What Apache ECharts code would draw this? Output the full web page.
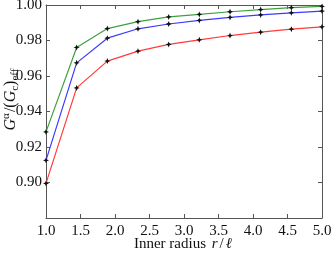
<!DOCTYPE html>
<html>
<head>
<meta charset="utf-8">
<script src="https://cdn.jsdelivr.net/npm/echarts@6/dist/echarts.min.js"></script>
<style>
  html, body { margin: 0; padding: 0; background: #fff; }
  #chart { width: 332px; height: 253px; }
</style>
</head>
<body>
<div id="chart"></div>
<script>
// inner radius r/l
const radii = [1.0, 1.444, 1.889, 2.333, 2.778, 3.222, 3.667, 4.111, 4.556, 5.0];
const greenVals = [0.9285, 0.9761, 0.9867, 0.9906, 0.9933, 0.9947, 0.9962, 0.9974, 0.9985, 0.9992];
const blueVals  = [0.9125, 0.9674, 0.9813, 0.9866, 0.9893, 0.9913, 0.9930, 0.9944, 0.9956, 0.9966];
const redVals   = [0.8995, 0.9533, 0.9684, 0.9740, 0.9778, 0.9804, 0.9828, 0.9847, 0.9864, 0.9877];

const font = 'Liberation Serif';
const axisColor = '#555';
const star = 'path://M0,-1L0.3,-0.3L1,0L0.3,0.3L0,1L-0.3,0.3L-1,0L-0.3,-0.3Z';

function line(vals, color) {
  return {
    type: 'line',
    data: radii.map((r, i) => [r, vals[i]]),
    symbol: star,
    symbolSize: 6,
    showSymbol: true,
    itemStyle: { color: '#111' },
    lineStyle: { color: color, width: 1.2 },
    z: 3
  };
}

const chart = echarts.init(document.getElementById('chart'));
const tickStyle = { show: true, inside: true, length: 4, lineStyle: { color: axisColor } };
const lineStyle = { show: true, lineStyle: { color: axisColor, width: 1 } };

chart.setOption({
  animation: false,
  grid: { left: 46, right: 10, top: 5, bottom: 35, containLabel: false, outerBoundsMode: 'none' },
  xAxis: [
    {
      type: 'value', min: 1, max: 5, interval: 0.5,
      axisLine: lineStyle, axisTick: tickStyle, splitLine: { show: false },
      axisLabel: { color: '#111', fontFamily: font, fontSize: 15, margin: 6,
        formatter: v => v.toFixed(1) },
      name: '{n|Inner radius }{i|r}{n|/}{i|ℓ}',
      nameLocation: 'middle', nameGap: 19, nameMoveOverlap: false,
      nameTextStyle: {
        rich: {
          n: { fontFamily: font, fontSize: 15, color: '#111' },
          i: { fontFamily: font, fontSize: 15, color: '#111', fontStyle: 'italic', padding: [0, 2, 0, 2] }
        }
      }
    },
    {
      type: 'value', position: 'top', min: 1, max: 5, interval: 0.5,
      axisLine: lineStyle, axisTick: tickStyle, axisLabel: { show: false }, splitLine: { show: false }
    }
  ],
  yAxis: [
    {
      type: 'value', min: 0.88, max: 1.0, interval: 0.02,
      axisLine: lineStyle, axisTick: tickStyle, splitLine: { show: false },
      axisLabel: { color: '#111', fontFamily: font, fontSize: 15, margin: 4,
        formatter: v => v < 0.89 ? '' : v.toFixed(2) },
      name: '{sp| }{i|G}{sup|α}{n|/(}{i|G}{sub|c}{n|)}{sub|eff}',
      nameLocation: 'middle', nameGap: 25, nameMoveOverlap: false,
      nameTextStyle: {
        lineHeight: 20,
        rich: {
          sp: { width: 24, lineHeight: 20 },
          n: { fontFamily: font, fontSize: 16, color: '#111', lineHeight: 20 },
          i: { fontFamily: font, fontSize: 16, color: '#111', fontStyle: 'italic', lineHeight: 20 },
          sup: { fontFamily: font, fontSize: 11, color: '#111', verticalAlign: 'top', lineHeight: 20, padding: [0, 1, 7, 0] },
          sub: { fontFamily: font, fontSize: 11, color: '#111', verticalAlign: 'bottom', lineHeight: 20, padding: [5, 0, 0, 0] }
        }
      }
    },
    {
      type: 'value', position: 'right', min: 0.88, max: 1.0, interval: 0.02,
      axisLine: lineStyle, axisTick: tickStyle, axisLabel: { show: false }, splitLine: { show: false }
    }
  ],
  series: [
    line(redVals, '#ff3b3b'),
    line(blueVals, '#3b3bff'),
    line(greenVals, '#3fa03f')
  ]
});
</script>
</body>
</html>
